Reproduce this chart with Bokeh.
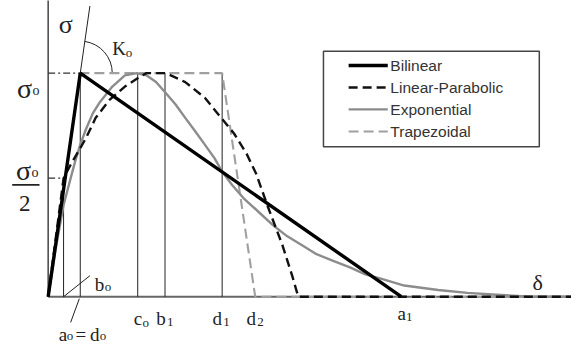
from bokeh.plotting import figure
from bokeh.models import Range1d
from bokeh.embed import file_html
from bokeh.resources import INLINE
from bokeh.core.properties import value

# ---- characteristic abscissae (delta) and stress levels (sigma / sigma_o) ----
b_o = 0.48
a_o = 1.00          # = d_o
c_o = 2.79
b_1 = 3.64
d_1 = 5.42
d_2 = 6.45
a_1 = 11.0
sig_o = 1.0
sig_half = 0.53
x_end = 16.5

# ---- constitutive laws ----
bil_x = [0.0, a_o, a_1]
bil_y = [0.0, sig_o, 0.0]

lp_x = [0.0, 0.48, 0.70, 0.94, 1.18, 1.48, 1.91, 2.39, 2.82, 3.06, 3.36, 3.67,
        4.27, 4.88, 5.39, 5.79, 6.18, 6.48, 6.85, 7.30, 7.61, 7.79, 16.5]
lp_y = [0.0, 0.53, 0.59, 0.65, 0.71, 0.80, 0.88, 0.94, 0.98, 1.00, 1.00, 1.00,
        0.96, 0.89, 0.80, 0.73, 0.64, 0.55, 0.40, 0.23, 0.09, 0.0, 0.0]

exp_x = [0.0, 0.24, 0.48, 0.70, 0.85, 1.00, 1.18, 1.39, 1.61, 2.00, 2.39, 2.76,
         3.06, 3.36, 3.67, 3.97, 4.27, 4.58, 4.88, 5.18, 5.42, 5.73, 6.09, 6.55,
         7.00, 7.45, 7.91, 8.36, 8.88, 9.42, 9.88, 10.39, 11.09, 12.15, 13.06,
         13.97, 15.03, 16.5]
exp_y = [0.0, 0.22, 0.41, 0.53, 0.61, 0.68, 0.75, 0.82, 0.87, 0.94, 0.99, 1.00,
         0.99, 0.96, 0.91, 0.86, 0.80, 0.74, 0.68, 0.62, 0.56, 0.50, 0.44, 0.38,
         0.32, 0.27, 0.23, 0.19, 0.16, 0.13, 0.10, 0.08, 0.05, 0.03, 0.017,
         0.009, 0.0, 0.0]

trap_x = [0.0, a_o, d_1, d_2, 16.5]
trap_y = [0.0, sig_o, sig_o, 0.0, 0.0]

series_names = ["Bilinear", "Linear-Parabolic", "Exponential", "Trapezoidal"]
series_x = [bil_x, lp_x, exp_x, trap_x]
series_y = [bil_y, lp_y, exp_y, trap_y]
series_color = ["#000000", "#111111", "#8c8c8c", "#a0a0a0"]
series_width = [3.4, 2.4, 2.4, 2.1]
series_dash = ["solid", "9 5", "solid", "10 5"]

# ---- figure ----
p = figure(width=571, height=344, output_backend="svg", toolbar_location=None,
           x_axis_location=None, y_axis_location=None, min_border=0,
           x_range=Range1d(-1.4848, 16.303), y_range=Range1d(-0.2137, 1.3248))
p.grid.visible = False
p.outline_line_color = None
p.background_fill_color = "white"

ink = "#222222"
serif = value("Liberation Serif")

# axes drawn as lines
p.line([0, 0], [0, 1.40], line_color="#444444", line_width=1.5)
p.line([0, x_end], [0, 0], line_color="#666666", line_width=2)

# reference lines
p.line([0, a_o], [sig_o, sig_o], line_color="#333333", line_width=1.2, line_dash="7 3 2 3")
p.line([0, b_o], [sig_half, sig_half], line_color="#333333", line_width=1.2, line_dash="7 3 2 3")
p.segment(x0=[b_o], y0=[0], x1=[b_o], y1=[sig_half], line_color=ink, line_width=1)
p.segment(x0=[a_o, c_o, b_1, d_1], y0=[0, 0, 0, 0],
          x1=[a_o, c_o, b_1, d_1], y1=[sig_o] * 4, line_color=ink, line_width=1)

# initial stiffness tangent and angle arc
p.line([0, 1.30], [0, 1.30], line_color=ink, line_width=1)
p.arc(x=[a_o], y=[sig_o], radius=32, radius_units="screen", start_angle=0,
      end_angle=1.43, line_color=ink, line_width=1)

# curves (draw lighter ones first)
for i in [3, 2, 1, 0]:
    p.line(series_x[i], series_y[i], line_color=series_color[i],
           line_width=series_width[i], line_dash=series_dash[i])

# leader lines
p.line([b_o, 1.30], [0, 0.094], line_color=ink, line_width=1)
p.line([0.97, 0.70], [-0.009, -0.115], line_color=ink, line_width=1)

# ---- labels ----
def label(x, y, txt, size, align="left"):
    p.text(x=[x], y=[y], text=[txt], text_font=serif, text_font_size=f"{size}px",
           text_color=ink, text_align=align, text_baseline="alphabetic")

label(0.33, 1.218, "σ", 26)
label(2.0, 1.111, "K", 19)
label(2.42, 1.094, "o", 13)
label(-0.97, 0.932, "σ", 28)
label(-0.49, 0.923, "o", 14)
label(-1.0, 0.565, "σ", 28)
label(-0.52, 0.556, "o", 14)
p.line([-1.12, -0.27], [0.5, 0.5], line_color=ink, line_width=1.8)
label(-0.91, 0.415, "2", 23)

label(1.455, 0.056, "b", 19)
label(1.76, 0.047, "o", 13)
label(0.33, -0.167, "a", 19)
label(0.58, -0.175, "o", 13)
label(0.85, -0.167, "=", 19)
label(1.30, -0.167, "d", 19)
label(1.61, -0.175, "o", 13)
label(2.667, -0.098, "c", 19)
label(2.94, -0.115, "o", 13)
label(3.364, -0.098, "b", 19)
label(3.70, -0.115, "1", 13)
label(5.121, -0.098, "d", 19)
label(5.455, -0.115, "1", 13)
label(6.182, -0.098, "d", 19)
label(6.515, -0.115, "2", 13)
label(10.879, -0.073, "a", 19)
label(11.15, -0.090, "1", 13)
label(15.09, 0.064, "δ", 22)

# ---- legend (manual box) ----
p.quad(left=[8.576], right=[15.30], top=[1.098], bottom=[0.671],
       fill_color="white", line_color="#444444", line_width=1.5)
row_y = [1.034, 0.936, 0.838, 0.739]
for i, name in enumerate(series_names):
    p.line([9.36, 10.58], [row_y[i], row_y[i]], line_color=series_color[i],
           line_width=series_width[i], line_dash=series_dash[i])
    p.text(x=[10.66], y=[row_y[i]], text=[name], text_font=value("Liberation Sans"),
           text_font_size="15.5px", text_color="#333333", text_align="left",
           text_baseline="middle")

open("out.html", "w").write(file_html(p, INLINE))
